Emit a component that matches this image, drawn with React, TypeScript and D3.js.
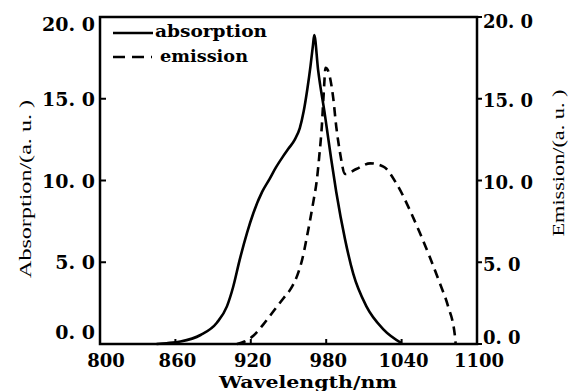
import React from 'react';
import * as d3 from 'd3';

const xTicks = [800, 860, 920, 980, 1040, 1100];
const yTicks = [0, 5, 10, 15, 20];
const yTickLabels = ['0. 0', '5. 0', '10. 0', '15. 0', '20. 0'];

const absWl = [845, 853, 864, 880, 893, 901, 906, 911, 917, 922, 929, 935, 940, 945, 950, 955, 959, 962, 965, 967.5, 969.5, 970.5, 973.5, 979, 984, 988, 995, 1001.5, 1012, 1025.5, 1040];
const absVal = [0, 0.05, 0.15, 0.55, 1.3, 2.3, 3.5, 5.1, 6.8, 8.0, 9.3, 10.1, 10.8, 11.4, 11.95, 12.5, 13.2, 14.2, 15.6, 17.0, 18.3, 18.9, 16.8, 14.0, 11.3, 9.3, 6.4, 4.3, 2.3, 0.9, 0.05];

const emWl = [909, 915, 922, 930, 938, 946, 952, 957, 961, 964, 967, 970, 972.5, 974.5, 976.5, 978, 979.5, 981, 985.5, 988, 991, 995, 1004, 1015, 1025.5, 1036, 1046.5, 1054.5, 1062.5, 1070.5, 1077, 1082.5, 1083];
const emVal = [0, 0.15, 0.5, 1.2, 2.0, 2.8, 3.4, 4.2, 5.2, 6.3, 7.5, 8.8, 10.0, 11.5, 13.3, 15.3, 16.9, 16.8, 15.1, 13.3, 11.7, 10.4, 10.7, 11.05, 10.85, 9.8, 8.2, 6.8, 5.3, 3.7, 2.3, 0.45, 0];

const L = 100, R = 477, T = 17, B = 344;
const FONT = '"DejaVu Serif", "Liberation Serif", serif';

export default function App() {
  const x = d3.scaleLinear().domain([800, 1100]).range([L, R]);
  const y = d3.scaleLinear().domain([0, 20]).range([B, T]);
  const line = d3.line<[number, number]>()
    .x(d => x(d[0]))
    .y(d => y(d[1]))
    .curve(d3.curveMonotoneX);
  const absPts = absWl.map((w, i) => [w, absVal[i]] as [number, number]);
  const emPts = emWl.map((w, i) => [w, emVal[i]] as [number, number]);

  return (
    <svg width={579} height={391} style={{ position: 'absolute', left: 0, top: 0, background: '#fff' }}
      fontFamily={FONT}>
      <rect x={0} y={0} width={579} height={391} fill="#fff" />
      {/* curves */}
      <path d={line(absPts) || ''} fill="none" stroke="#000" strokeWidth={2.6} />
      <path d={line(emPts) || ''} fill="none" stroke="#000" strokeWidth={2.6} strokeDasharray="9 6" />
      {/* frame */}
      <rect x={L} y={T} width={R - L} height={B - T} fill="none" stroke="#000" strokeWidth={2.5} />
      {/* left ticks */}
      {yTicks.map((v, i) => (
        <g key={'l' + v}>
          <line x1={L} x2={L + 6} y1={y(v)} y2={y(v)} stroke="#000" strokeWidth={2} />
          <text x={95} y={Math.min(Math.max(y(v), 24), 332)} textAnchor="end" dominantBaseline="central"
            fontSize={19} fontWeight="bold">{yTickLabels[i]}</text>
        </g>
      ))}
      {/* right ticks */}
      {yTicks.map((v, i) => (
        <g key={'r' + v}>
          <line x1={R} x2={R + 5} y1={y(v)} y2={y(v)} stroke="#000" strokeWidth={2} />
          <text x={483} y={Math.min(Math.max(y(v) + 2, 21), 337)} textAnchor="start" dominantBaseline="central"
            fontSize={18} fontWeight="bold">{yTickLabels[i]}</text>
        </g>
      ))}
      {/* bottom ticks */}
      {xTicks.map(v => (
        <g key={'b' + v}>
          {v > 800 && v < 1100 && (
            <line x1={x(v)} x2={x(v)} y1={B} y2={B - 5} stroke="#000" strokeWidth={2} />
          )}
          <text x={x(v) + (v === 800 ? 6 : 2)} y={360} textAnchor="middle" dominantBaseline="central"
            fontSize={18} fontWeight="bold">{v}</text>
        </g>
      ))}
      {/* axis titles */}
      <text x={308} y={388} textAnchor="middle" fontSize={17} fontWeight="bold" textLength={178}
        lengthAdjust="spacingAndGlyphs">Wavelength/nm</text>
      <text transform="translate(25,189) rotate(-90)" textAnchor="middle" dominantBaseline="central"
        fontSize={16} fontFamily='"Liberation Serif", serif' textLength={178} lengthAdjust="spacingAndGlyphs">Absorption/(a. u. )</text>
      <text transform="translate(558,163) rotate(-90)" textAnchor="middle" dominantBaseline="central"
        fontSize={16} fontFamily='"Liberation Serif", serif' textLength={147} lengthAdjust="spacingAndGlyphs">Emission/(a. u. )</text>
      {/* legend */}
      <line x1={113} x2={153} y1={33} y2={33} stroke="#000" strokeWidth={2.6} />
      <text x={155} y={31} dominantBaseline="central" fontSize={17} fontWeight="bold" textLength={112}
        lengthAdjust="spacingAndGlyphs">absorption</text>
      <line x1={113} x2={152} y1={57} y2={57} stroke="#000" strokeWidth={2.6} strokeDasharray="12 7" />
      <text x={160} y={56} dominantBaseline="central" fontSize={17} fontWeight="bold" textLength={88}
        lengthAdjust="spacingAndGlyphs">emission</text>
    </svg>
  );
}
